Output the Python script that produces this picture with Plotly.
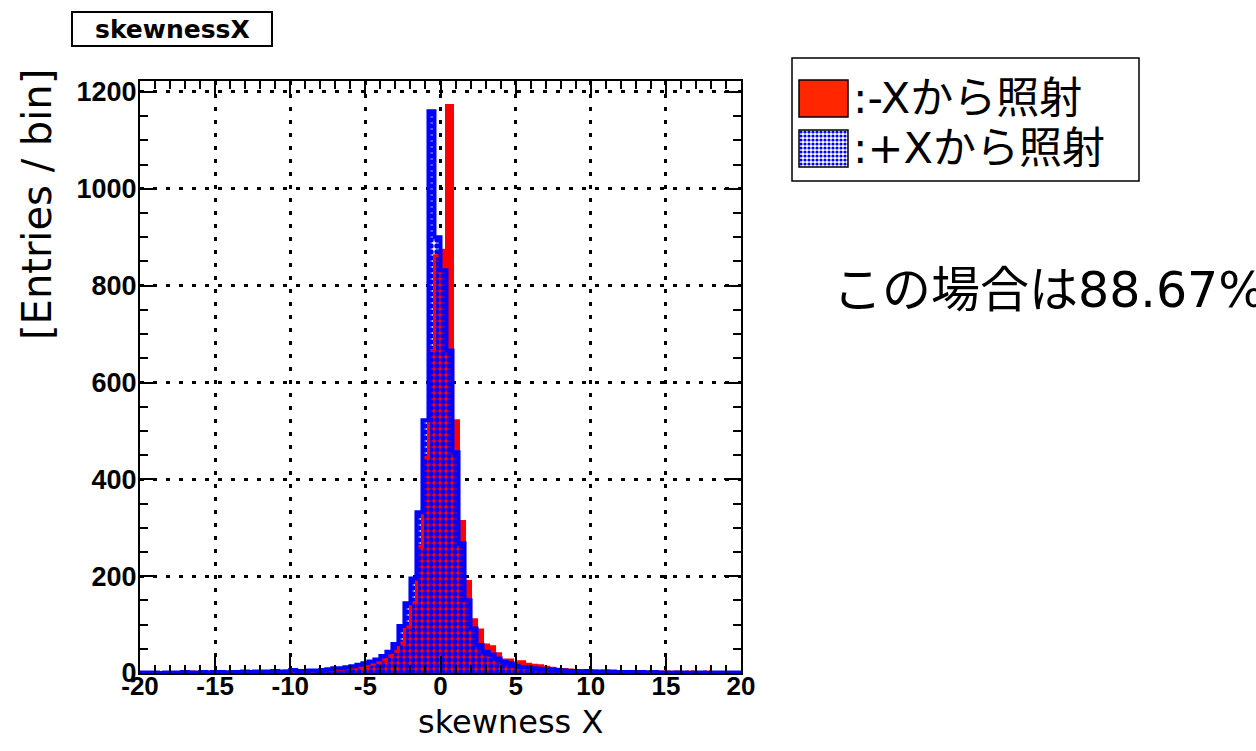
import plotly.graph_objects as go

W, H = 1256, 751


def px(x):
    return x / W


def py(y):
    return 1 - y / H


# ---------------- data ----------------
X_MIN, X_MAX, BIN_W = -20.0, 20.0, 0.4
Y_MAX = 1222.7

# "-Xから照射" (red, solid)
minus_x_counts = [
    1, 0, 1, 1, 0, 1, 1, 1, 2, 1,
    1, 2, 1, 2, 2, 1, 2, 2, 3, 2,
    3, 2, 3, 3, 4, 4, 3, 4, 4, 5,
    5, 6, 7, 8, 10, 11, 13, 15, 18, 22,
    27, 35, 45, 62, 95, 145, 262, 445, 666, 862,
    873, 1172, 521, 313, 189, 110, 89, 58, 54, 40,
    27, 27, 19, 23, 18, 16, 15, 12, 10, 8,
    7, 6, 5, 5, 4, 4, 3, 4, 3, 3,
    3, 2, 3, 2, 2, 3, 2, 2, 1, 2,
    1, 2, 1, 1, 2, 1, 1, 1, 0, 1,
]

# "+Xから照射" (blue, hatched)
plus_x_counts = [
    1, 1, 1, 0, 1, 1, 1, 2, 1, 1,
    2, 1, 2, 2, 1, 2, 2, 3, 2, 3,
    3, 3, 4, 3, 3, 6, 4, 4, 5, 5,
    6, 8, 10, 10, 12, 14, 17, 20, 24, 28,
    35, 44, 60, 97, 144, 195, 332, 522, 1160, 900,
    832, 666, 456, 268, 150, 92, 58, 44, 38, 30,
    23, 20, 15, 12, 12, 10, 9, 8, 7, 6,
    5, 4, 4, 3, 4, 3, 3, 2, 3, 2,
    2, 2, 1, 2, 1, 2, 1, 1, 1, 1,
    1, 0, 1, 1, 0, 1, 1, 0, 1, 1,
]

x_tick_vals = [-20, -15, -10, -5, 0, 5, 10, 15, 20]
x_tick_labels = ["-20", "-15", "-10", "-5", "0", "5", "10", "15", "20"]
y_tick_vals = [0, 200, 400, 600, 800, 1000, 1200]
y_tick_labels = ["0", "200", "400", "600", "800", "1000", "1200"]

legend_labels = [":-Xから照射", ":+Xから照射"]
title_text = "skewnessX"
x_title = "skewness X"
y_title = "[Entries / bin]"
note_text = "この場合は88.67%"

n_bins = len(minus_x_counts)
centers = [X_MIN + BIN_W * (i + 0.5) for i in range(n_bins)]
edges = [X_MIN + BIN_W * i for i in range(n_bins + 1)]

RED = "#ff0000"
BLUE = "#0000ff"
pattern = dict(shape=".", fgcolor=BLUE, bgcolor="rgba(0,0,0,0)",
               size=6, solidity=0.62, fillmode="replace")

fig = go.Figure()

# red histogram
fig.add_trace(go.Bar(x=centers, y=minus_x_counts, width=BIN_W,
                     marker=dict(color=RED, line=dict(width=0)),
                     xaxis="x", yaxis="y", hoverinfo="skip"))
fig.add_trace(go.Scatter(x=edges, y=minus_x_counts + [minus_x_counts[-1]],
                         mode="lines", line=dict(color=RED, width=3, shape="hv"),
                         xaxis="x", yaxis="y", hoverinfo="skip"))
# blue histogram (pattern fill)
fig.add_trace(go.Bar(x=centers, y=plus_x_counts, width=BIN_W,
                     marker=dict(color="rgba(0,0,0,0)", line=dict(width=0), pattern=pattern),
                     xaxis="x", yaxis="y", hoverinfo="skip"))
fig.add_trace(go.Scatter(x=edges, y=plus_x_counts + [plus_x_counts[-1]],
                         mode="lines", line=dict(color=BLUE, width=4, shape="hv"),
                         xaxis="x", yaxis="y", hoverinfo="skip"))

# legend swatch for the blue pattern
fig.add_trace(go.Bar(x=[0], y=[1], width=1,
                     marker=dict(color="rgba(0,0,0,0)", line=dict(width=0),
                                 pattern=dict(pattern, size=4, solidity=0.5)),
                     xaxis="x2", yaxis="y2", hoverinfo="skip"))

tickfont = dict(family="Liberation Sans", size=26, color="black", weight="bold")

fig.update_layout(
    width=W, height=H,
    margin=dict(l=0, r=0, t=0, b=0, pad=0),
    paper_bgcolor="white", plot_bgcolor="white",
    showlegend=False, barmode="overlay", bargap=0,
    xaxis=dict(
        domain=[px(140), px(741)], range=[X_MIN, X_MAX], anchor="y",
        showline=True, linecolor="black", linewidth=2, mirror="allticks",
        ticks="inside", ticklen=17, tickwidth=2, tickcolor="black",
        tickmode="array", tickvals=x_tick_vals, ticktext=x_tick_labels,
        tickfont=tickfont, ticklabelstandoff=-11,
        showgrid=True, gridcolor="black", gridwidth=3, griddash="4px,9px",
        zeroline=False, automargin=False,
        minor=dict(dtick=1, tick0=0, ticks="inside", ticklen=8, tickwidth=2,
                   tickcolor="black", showgrid=False),
    ),
    yaxis=dict(
        domain=[py(673), py(81)], range=[0, Y_MAX], anchor="x",
        showline=True, linecolor="black", linewidth=2, mirror="allticks",
        ticks="inside", ticklen=17, tickwidth=2, tickcolor="black",
        tickmode="array", tickvals=y_tick_vals, ticktext=y_tick_labels,
        tickfont=dict(tickfont, size=27), ticklabelstandoff=-4,
        showgrid=True, gridcolor="black", gridwidth=3, griddash="4px,9px",
        zeroline=False, automargin=False,
        minor=dict(dtick=50, tick0=0, ticks="inside", ticklen=8, tickwidth=2,
                   tickcolor="black", showgrid=False),
    ),
    xaxis2=dict(domain=[px(799), px(848)], range=[-0.5, 0.5], anchor="y2",
                visible=False, fixedrange=True),
    yaxis2=dict(domain=[py(167), py(130)], range=[0, 1], anchor="x2",
                visible=False, fixedrange=True),
)

shapes = [
    # title box
    dict(type="rect", xref="paper", yref="paper", x0=px(72), x1=px(272),
         y0=py(46), y1=py(12), line=dict(color="black", width=2),
         fillcolor="white", layer="below"),
    # legend box
    dict(type="rect", xref="paper", yref="paper", x0=px(792), x1=px(1139),
         y0=py(181), y1=py(58), line=dict(color="black", width=1.5),
         fillcolor="white", layer="below"),
    # red swatch
    dict(type="rect", xref="paper", yref="paper", x0=px(799), x1=px(848),
         y0=py(117), y1=py(80), line=dict(color="black", width=1.5),
         fillcolor="#ff2600", layer="above"),
    # blue swatch border
    dict(type="rect", xref="paper", yref="paper", x0=px(799), x1=px(848),
         y0=py(167), y1=py(130), line=dict(color="black", width=1.5),
         fillcolor="rgba(0,0,0,0)", layer="above"),
]
fig.update_layout(shapes=shapes)

jp_font = "DejaVu Sans, Noto Sans CJK JP"
annotations = [
    dict(text=title_text, x=px(172), y=py(29), xanchor="center", yanchor="middle",
         font=dict(family="DejaVu Sans", size=25, color="black", weight="bold")),
    dict(text=y_title, x=px(37), y=py(205), xanchor="center", yanchor="middle",
         textangle=-90, font=dict(family="DejaVu Sans", size=40, color="black")),
    dict(text=x_title, x=px(510), y=py(722), xanchor="center", yanchor="middle",
         font=dict(family="DejaVu Sans", size=32, color="black")),
    dict(text=legend_labels[0], x=px(851), y=py(98), xanchor="left", yanchor="middle",
         font=dict(family=jp_font, size=43, color="black")),
    dict(text=legend_labels[1], x=px(851), y=py(148), xanchor="left", yanchor="middle",
         font=dict(family=jp_font, size=43, color="black")),
    dict(text=note_text, x=px(831), y=py(290), xanchor="left", yanchor="middle",
         font=dict(family=jp_font, size=49, color="black")),
]
for a in annotations:
    a.update(xref="paper", yref="paper", showarrow=False)
fig.update_layout(annotations=annotations)

fig.write_html("out.html")
